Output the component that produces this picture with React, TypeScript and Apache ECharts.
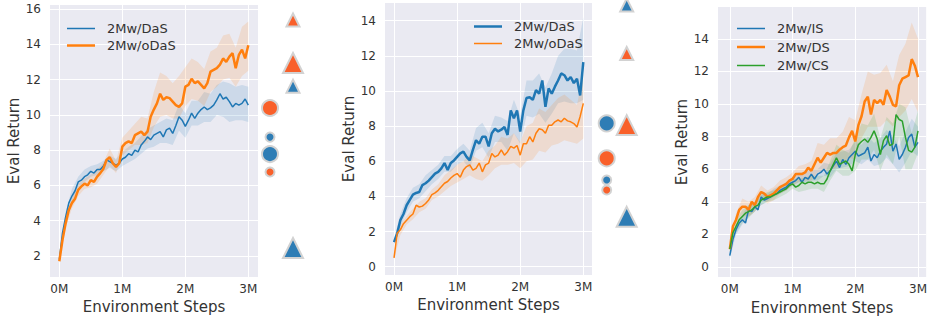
import React, { useEffect, useRef } from 'react';
import * as echarts from 'echarts';

// ---------- data ----------
const STEPS_M = [0, 0.05, 0.1, 0.15, 0.2, 0.25, 0.3, 0.35, 0.4, 0.45, 0.5, 0.55, 0.6, 0.65, 0.7, 0.75, 0.8, 0.85, 0.9, 0.95,
  1.0, 1.05, 1.1, 1.15, 1.2, 1.25, 1.3, 1.35, 1.4, 1.45, 1.5, 1.55, 1.6, 1.65, 1.7, 1.75, 1.8, 1.85, 1.9, 1.95,
  2.0, 2.05, 2.1, 2.15, 2.2, 2.25, 2.3, 2.35, 2.4, 2.45, 2.5, 2.55, 2.6, 2.65, 2.7, 2.75, 2.8, 2.85, 2.9, 2.95, 3.0];
const BAND_STEPS_M = [0, 0.1, 0.2, 0.3, 0.4, 0.5, 0.6, 0.7, 0.8, 0.9, 1.0, 1.1, 1.2, 1.3, 1.4, 1.5, 1.6, 1.7, 1.8, 1.9,
  2.0, 2.1, 2.2, 2.3, 2.4, 2.5, 2.6, 2.7, 2.8, 2.9, 3.0];

const X_TICK_SUFFIX = 'M';
const X_TITLE = 'Environment Steps';
const Y_TITLE = 'Eval Return';

// Panel 1
const P1_DAS = [1.8, 3.3, 4.2, 5.0, 5.4, 5.7, 6.2, 6.3, 6.5, 6.6, 6.8, 6.7, 6.9, 6.9, 7.1, 7.45, 7.35, 7.25, 7.15, 7.25,
  7.5, 7.6, 7.8, 7.7, 8.0, 7.9, 8.3, 8.5, 8.75, 8.6, 8.85, 8.95, 9.05, 8.75, 9.15, 9.25, 8.95, 9.4, 9.9, 9.7,
  9.35, 9.7, 10.1, 9.8, 10.1, 10.3, 10.45, 10.3, 10.4, 10.55, 10.85, 11.2, 10.9, 11.0, 10.75, 10.45, 10.65, 10.55, 10.65, 10.9, 10.55];
const P1_ODAS = [1.7, 2.9, 3.85, 4.6, 5.0, 5.25, 5.75, 5.95, 6.1, 6.0, 6.3, 6.2, 6.5, 6.7, 6.95, 7.45, 7.6, 7.25, 7.05, 7.25,
  8.2, 8.4, 8.5, 8.4, 8.85, 8.95, 9.05, 8.85, 9.05, 9.9, 10.3, 10.65, 11.2, 10.85, 11.0, 10.95, 10.75, 10.55, 10.45, 10.65,
  11.6, 11.7, 12.05, 11.8, 11.9, 11.7, 11.5, 11.8, 12.45, 12.55, 12.65, 12.85, 13.2, 13.0, 13.3, 13.5, 12.65, 13.4, 13.7, 13.2, 13.95];
const P1_DAS_LO = [1.7, 3.9, 5.0, 5.9, 6.2, 6.5, 6.6, 6.8, 7.0, 6.8, 7.1, 7.3, 7.5, 7.8, 8.1, 8.2, 8.4, 8.4, 8.3, 9.1, 8.7, 9.4, 9.4, 9.6, 9.6, 10.0, 9.9, 9.6, 9.7, 9.7, 9.6];
const P1_DAS_HI = [2.0, 4.5, 5.8, 6.5, 6.9, 7.1, 7.2, 7.4, 7.7, 7.5, 7.9, 8.2, 8.4, 8.8, 9.2, 9.4, 9.6, 9.8, 9.7, 10.6, 10.1, 10.8, 10.8, 11.3, 11.2, 11.7, 11.9, 11.8, 11.6, 11.7, 11.6];
const P1_ODAS_LO = [1.6, 3.6, 4.7, 5.4, 5.8, 5.9, 6.1, 6.6, 7.1, 6.7, 7.7, 8.0, 8.3, 8.3, 8.4, 9.3, 9.9, 10.0, 9.8, 9.8, 10.5, 10.9, 10.8, 10.5, 11.3, 11.6, 12.0, 12.1, 11.6, 12.2, 12.5];
const P1_ODAS_HI = [1.8, 4.1, 5.3, 6.1, 6.4, 6.6, 6.9, 7.3, 8.1, 7.4, 8.7, 9.1, 9.5, 9.9, 9.8, 11.3, 12.4, 12.2, 11.8, 12.2, 12.7, 13.2, 13.0, 12.6, 13.6, 13.8, 14.5, 14.6, 13.8, 15.0, 15.3];
// markers: [big circle, small circle, big triangle, small triangle]
const P1_DAS_MARKERS = [7.78, 8.74, 2.45, 11.63];
const P1_ODAS_MARKERS = [10.39, 6.76, 12.94, 15.38];

// Panel 2
const P2_DAS = [1.4, 1.9, 2.65, 3.0, 3.5, 3.8, 4.1, 4.2, 4.25, 4.65, 4.75, 4.9, 5.1, 5.3, 5.4, 5.6, 5.9, 5.5, 5.9, 6.05,
  6.25, 6.45, 6.55, 6.25, 6.05, 6.65, 7.2, 7.0, 7.4, 7.4, 6.85, 7.6, 7.85, 7.7, 7.8, 7.95, 7.5, 8.9, 8.45, 8.9,
  7.7, 8.9, 9.6, 9.65, 9.5, 10.05, 9.85, 10.6, 9.1, 10.15, 9.85, 10.25, 10.6, 11.0, 10.9, 10.6, 10.8, 10.45, 10.7, 9.75, 11.65];
const P2_ODAS = [0.5, 1.9, 2.1, 2.45, 2.65, 2.85, 3.0, 3.5, 3.4, 3.45, 3.6, 3.8, 4.1, 4.2, 4.35, 4.55, 4.75, 4.85, 5.05, 5.2,
  5.3, 5.1, 5.5, 5.7, 5.8, 5.5, 5.6, 5.9, 5.4, 5.8, 5.9, 6.45, 6.25, 6.35, 6.65, 6.35, 6.55, 6.85, 6.75, 6.9,
  6.35, 7.0, 7.0, 7.4, 7.1, 7.6, 7.85, 7.8, 7.6, 8.05, 8.05, 8.25, 8.35, 8.25, 8.45, 8.3, 8.25, 8.15, 7.95, 8.55, 9.3];
const P2_DAS_LO = [1.2, 2.3, 3.1, 3.7, 3.9, 4.3, 4.7, 5.0, 5.4, 5.4, 5.8, 6.0, 5.6, 6.6, 6.8, 6.2, 7.1, 7.1, 6.6, 7.6, 7.0, 8.6, 8.5, 8.7, 8.2, 8.7, 9.3, 9.4, 9.3, 9.3, 9.5];
const P2_DAS_HI = [1.6, 3.0, 3.9, 4.5, 4.7, 5.2, 5.5, 5.8, 6.3, 6.3, 6.7, 7.0, 6.6, 7.9, 8.2, 7.6, 8.6, 8.5, 8.3, 9.5, 8.6, 10.6, 10.6, 11.0, 10.2, 11.0, 12.0, 12.4, 12.4, 12.3, 14.2];
const P2_ODAS_LO = [0.4, 1.8, 2.4, 2.7, 3.1, 3.3, 3.8, 4.0, 4.3, 4.6, 4.8, 5.0, 5.2, 5.0, 4.9, 5.2, 5.6, 5.8, 5.8, 5.9, 5.6, 6.0, 6.1, 6.6, 6.5, 6.9, 7.0, 7.2, 7.1, 7.0, 7.3];
const P2_ODAS_HI = [0.6, 2.4, 2.9, 3.3, 3.7, 3.9, 4.4, 4.7, 5.2, 5.5, 5.8, 6.0, 6.4, 6.2, 6.0, 6.6, 6.9, 7.4, 7.3, 7.6, 7.1, 8.0, 8.2, 9.0, 8.8, 9.2, 9.6, 9.8, 9.5, 9.2, 11.0];
const P2_DAS_MARKERS = [8.16, 4.94, 2.84, 14.89];
const P2_ODAS_MARKERS = [6.17, 4.37, 8.06, 12.14];

// Panel 3
const P3_IS = [0.7, 1.7, 2.3, 2.7, 2.9, 2.7, 3.5, 3.4, 3.7, 3.5, 4.3, 4.1, 4.2, 4.3, 4.5, 4.5, 4.7, 4.8, 4.9, 5.1,
  5.2, 5.3, 5.5, 5.2, 5.5, 5.4, 5.7, 5.4, 5.7, 5.8, 6.0, 5.7, 5.9, 6.2, 6.5, 6.1, 6.6, 6.3, 6.7, 6.9,
  7.1, 6.8, 6.9, 7.0, 7.35, 6.5, 6.9, 6.7, 7.1, 7.35, 7.55, 8.35, 7.1, 7.55, 6.6, 6.9, 7.35, 7.95, 8.15, 7.35, 7.65];
const P3_DS = [1.1, 2.5, 2.9, 3.5, 3.7, 3.7, 3.5, 4.0, 3.8, 4.3, 4.6, 4.5, 4.3, 4.4, 4.5, 4.7, 4.9, 5.0, 5.1, 5.3,
  5.4, 5.7, 5.7, 5.7, 5.8, 6.1, 5.9, 6.3, 6.7, 6.4, 6.7, 7.0, 6.9, 7.0, 7.0, 7.2, 7.35, 7.45, 7.95, 8.35,
  7.7, 8.7, 9.25, 10.15, 10.45, 9.35, 10.25, 10.05, 10.25, 9.95, 10.85, 10.45, 9.95, 9.85, 11.15, 11.55, 11.65, 11.75, 12.75, 12.35, 11.65];
const P3_CS = [1.1, 2.1, 2.5, 2.9, 3.1, 3.3, 3.4, 3.5, 3.7, 3.8, 4.1, 4.2, 4.3, 4.3, 4.4, 4.5, 4.6, 4.7, 4.8, 5.0,
  5.1, 4.9, 5.0, 5.2, 5.1, 5.2, 5.2, 5.1, 5.2, 5.1, 5.1, 5.4, 5.9, 6.3, 6.7, 6.3, 6.4, 6.5, 6.3, 5.9,
  6.9, 7.5, 7.7, 7.85, 7.65, 7.95, 8.35, 7.85, 6.9, 7.75, 8.05, 7.45, 7.55, 9.35, 9.05, 8.95, 7.95, 7.15, 7.05, 7.35, 8.35];
const P3_IS_LO = [0.5, 2.0, 2.6, 3.1, 3.4, 3.8, 4.0, 4.3, 4.5, 4.7, 5.0, 5.2, 5.2, 5.3, 5.3, 5.6, 5.5, 6.0, 6.1, 6.2, 6.5, 6.3, 6.6, 6.2, 6.3, 6.7, 6.3, 5.8, 6.4, 7.1, 6.8];
const P3_IS_HI = [0.9, 2.6, 3.2, 3.8, 4.0, 4.6, 4.5, 4.8, 5.0, 5.2, 5.5, 5.8, 5.8, 6.0, 6.0, 6.4, 6.3, 7.0, 7.1, 7.2, 7.7, 7.5, 8.0, 7.6, 7.9, 8.4, 8.0, 7.4, 8.3, 9.1, 8.6];
const P3_DS_LO = [0.9, 2.5, 3.2, 3.1, 3.4, 4.2, 3.9, 4.1, 4.5, 4.7, 5.0, 5.2, 5.3, 5.3, 5.8, 5.9, 5.9, 6.1, 6.4, 6.7, 6.6, 7.9, 8.6, 8.6, 8.6, 9.0, 8.6, 9.2, 9.6, 10.3, 9.5];
const P3_DS_HI = [1.3, 3.3, 4.2, 4.0, 4.3, 5.0, 4.7, 4.9, 5.3, 5.5, 5.8, 6.2, 6.3, 6.5, 7.6, 7.5, 7.9, 7.9, 8.3, 9.2, 9.0, 10.6, 12.0, 11.8, 11.9, 12.4, 11.4, 13.0, 13.7, 15.0, 14.0];
const P3_CS_LO = [0.9, 2.1, 2.7, 3.0, 3.4, 3.8, 4.0, 4.1, 4.3, 4.5, 4.8, 4.6, 4.7, 4.8, 4.8, 4.6, 5.3, 5.9, 5.6, 5.6, 5.9, 6.6, 6.6, 7.2, 5.9, 6.9, 6.3, 8.0, 6.0, 6.0, 7.0];
const P3_CS_HI = [1.3, 2.9, 3.5, 3.8, 4.0, 4.4, 4.6, 4.7, 4.9, 5.1, 5.4, 5.4, 5.5, 5.6, 5.6, 5.6, 6.5, 7.5, 7.2, 7.0, 7.9, 8.8, 8.7, 9.4, 7.9, 9.2, 8.8, 10.0, 9.8, 8.2, 9.6];

// ---------- styles ----------
const FONT = 'DejaVu Sans';
const TXT = '#333333';
const BLUE = '#1f77b4';
const ORANGE = '#ff7f0e';
const GREEN = '#2ca02c';
const MARK_BLUE = '#2e7db5';
const MARK_ORANGE = '#f9602a';
const BG = '#eaeaf2';

function band(gi: number, xs: number[], lo: number[], hi: number[], color: string) {
  return {
    type: 'custom',
    xAxisIndex: gi,
    yAxisIndex: gi,
    silent: true,
    z: 1,
    clip: true,
    data: [[xs[0], lo[0]]],
    renderItem: (_p: any, api: any) => {
      const pts: number[][] = [];
      for (let i = 0; i < xs.length; i++) pts.push(api.coord([xs[i], hi[i]]));
      for (let i = xs.length - 1; i >= 0; i--) pts.push(api.coord([xs[i], lo[i]]));
      return { type: 'polygon', shape: { points: pts }, style: { fill: color, opacity: 0.15 } };
    },
  };
}

function line(gi: number, name: string, ys: number[], color: string, width: number, z: number) {
  return {
    type: 'line',
    name,
    xAxisIndex: gi,
    yAxisIndex: gi,
    data: STEPS_M.map((x, i) => [x, ys[i]]),
    symbol: 'none',
    smooth: false,
    z,
    lineStyle: { color, width },
    itemStyle: { color },
  };
}

function markers(gi: number, vals: number[], color: string) {
  const shapes = [
    { col: 0, symbol: 'circle', size: 16 },
    { col: 0, symbol: 'circle', size: 9 },
    { col: 1, symbol: 'triangle', size: 20 },
    { col: 1, symbol: 'triangle', size: 13 },
  ];
  return {
    type: 'scatter',
    xAxisIndex: gi,
    yAxisIndex: gi,
    clip: false,
    silent: true,
    data: vals.map((v, i) => ({ value: [shapes[i].col, v], symbol: shapes[i].symbol, symbolSize: shapes[i].size })),
    itemStyle: { color, borderColor: '#d2d2d2', borderWidth: 2, opacity: 1 },
  };
}

function xAxis(gi: number, min: number, max: number, nameGap: number) {
  return {
    type: 'value',
    gridIndex: gi,
    min,
    max,
    splitNumber: 3,
    name: X_TITLE,
    nameLocation: 'middle',
    nameGap,
    nameTextStyle: { fontSize: 15, color: TXT, fontFamily: FONT },
    axisLine: { show: false },
    axisTick: { show: false },
    axisLabel: {
      fontSize: 12, color: TXT, fontFamily: FONT, margin: 6,
      showMinLabel: false, showMaxLabel: false,
      formatter: (v: number) => `${v}${X_TICK_SUFFIX}`,
    },
    splitLine: { show: true, showMinLine: false, showMaxLine: false, lineStyle: { color: '#ffffff', width: 1 } },
  };
}

function yAxis(gi: number, min: number, max: number, nameGap: number) {
  return {
    type: 'value',
    gridIndex: gi,
    min,
    max,
    splitNumber: 8,
    name: Y_TITLE,
    nameLocation: 'middle',
    nameGap,
    nameTextStyle: { fontSize: 15, color: TXT, fontFamily: FONT },
    axisLine: { show: false },
    axisTick: { show: false },
    axisLabel: {
      fontSize: 12, color: TXT, fontFamily: FONT, margin: 9,
      showMinLabel: false, showMaxLabel: false,
    },
    splitLine: { show: true, showMinLine: false, showMaxLine: false, lineStyle: { color: '#ffffff', width: 1 } },
  };
}

function hiddenCat(gi: number) {
  return { type: 'category', gridIndex: gi, data: ['circle', 'triangle'], boundaryGap: true, show: false };
}
function hiddenVal(gi: number, min: number, max: number) {
  return { type: 'value', gridIndex: gi, min, max, show: false, splitLine: { show: false } };
}

function legend(left: number, top: number, gap: number, items: { name: string; width: number }[]) {
  return {
    orient: 'vertical',
    left,
    top,
    itemWidth: 28,
    itemHeight: 14,
    itemGap: gap,
    selectedMode: false,
    symbolKeepAspect: true,
    textStyle: { fontSize: 13, color: TXT, fontFamily: FONT, padding: [0, 0, 0, 7] },
    data: items.map((it) => ({ name: it.name, icon: `path://M0 0H28V${it.width}H0Z` })),
  };
}

const P1_Y: [number, number] = [0.81, 16.23];
const P2_Y: [number, number] = [-0.47, 15.01];
const P3_Y: [number, number] = [-0.62, 15.95];

const option: any = {
  animation: false,
  backgroundColor: '#ffffff',
  textStyle: { fontFamily: FONT },
  grid: [
    { left: 50, top: 5, width: 208, height: 272, show: true, backgroundColor: BG, borderWidth: 0 },
    { left: 385, top: 3, width: 207, height: 272, show: true, backgroundColor: BG, borderWidth: 0 },
    { left: 718, top: 7, width: 212, height: 275, show: true, backgroundColor: BG, borderWidth: 0 },
    { left: 258.5, top: 5, width: 46, height: 272, show: false },
    { left: 596.7, top: 3, width: 40, height: 272, show: false },
  ],
  xAxis: [
    xAxis(0, -0.148, 3.154, 21),
    xAxis(1, -0.143, 3.138, 22),
    xAxis(2, -0.188, 3.13, 21),
    hiddenCat(3),
    hiddenCat(4),
  ],
  yAxis: [
    yAxis(0, P1_Y[0], P1_Y[1], 28),
    yAxis(1, P2_Y[0], P2_Y[1], 29),
    yAxis(2, P3_Y[0], P3_Y[1], 28),
    hiddenVal(3, P1_Y[0], P1_Y[1]),
    hiddenVal(4, P2_Y[0], P2_Y[1]),
  ],
  legend: [
    legend(62, 17, 4, [{ name: '2Mw/DaS', width: 1.5 }, { name: '2Mw/oDaS', width: 2.5 }]),
    legend(469, 15, 4, [{ name: '2Mw/DaS', width: 2.5 }, { name: '2Mw/oDaS', width: 1.5 }]),
    legend(732, 17, 5.5, [{ name: '2Mw/IS', width: 1.5 }, { name: '2Mw/DS', width: 2.5 }, { name: '2Mw/CS', width: 1.5 }]),
  ],
  series: [
    band(0, BAND_STEPS_M, P1_DAS_LO, P1_DAS_HI, BLUE),
    band(0, BAND_STEPS_M, P1_ODAS_LO, P1_ODAS_HI, ORANGE),
    line(0, '2Mw/DaS', P1_DAS, BLUE, 1.5, 3),
    line(0, '2Mw/oDaS', P1_ODAS, ORANGE, 2.5, 4),

    band(1, BAND_STEPS_M, P2_DAS_LO, P2_DAS_HI, BLUE),
    band(1, BAND_STEPS_M, P2_ODAS_LO, P2_ODAS_HI, ORANGE),
    line(1, '2Mw/DaS', P2_DAS, BLUE, 2.5, 3),
    line(1, '2Mw/oDaS', P2_ODAS, ORANGE, 1.5, 4),

    band(2, BAND_STEPS_M, P3_IS_LO, P3_IS_HI, BLUE),
    band(2, BAND_STEPS_M, P3_DS_LO, P3_DS_HI, ORANGE),
    band(2, BAND_STEPS_M, P3_CS_LO, P3_CS_HI, GREEN),
    line(2, '2Mw/IS', P3_IS, BLUE, 1.5, 3),
    line(2, '2Mw/DS', P3_DS, ORANGE, 2.5, 4),
    line(2, '2Mw/CS', P3_CS, GREEN, 1.5, 5),

    markers(3, P1_DAS_MARKERS, MARK_BLUE),
    markers(3, P1_ODAS_MARKERS, MARK_ORANGE),
    markers(4, P2_DAS_MARKERS, MARK_BLUE),
    markers(4, P2_ODAS_MARKERS, MARK_ORANGE),
  ],
};

export default function App() {
  const ref = useRef<HTMLDivElement>(null);
  useEffect(() => {
    if (!ref.current) return;
    const chart = echarts.init(ref.current, null, { renderer: 'svg' });
    chart.setOption(option);
    return () => chart.dispose();
  }, []);
  return (
    <div
      ref={ref}
      style={{ position: 'fixed', left: 0, top: 0, width: 930, height: 320, background: '#ffffff' }}
    />
  );
}
